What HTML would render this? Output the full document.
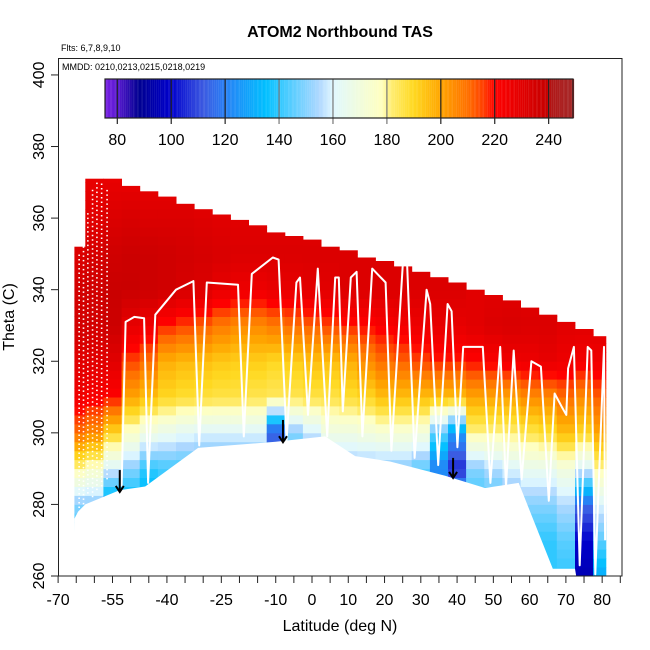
<!DOCTYPE html>
<html><head><meta charset="utf-8">
<style>
html,body{margin:0;padding:0;background:#fff;}
svg{display:block;font-family:"Liberation Sans",Arial,sans-serif;}
</style></head>
<body>
<svg id="chart" width="650" height="650" viewBox="0 0 650 650">
  <rect x="0" y="0" width="650" height="650" fill="#fff"/>
  <text x="340" y="37" text-anchor="middle" font-size="16" font-weight="bold">ATOM2 Northbound TAS</text>
  <text x="61" y="51" font-size="9">Flts: 6,7,8,9,10</text>
  <g id="heat"></g>
  <g id="tracks"></g>
  <g id="arrows"></g>
  <g id="cbar"></g>
  <text x="62" y="70" font-size="9">MMDD: 0210,0213,0215,0218,0219</text>
  <g id="axes"></g>
  <text x="340" y="631" text-anchor="middle" font-size="16">Latitude (deg N)</text>
  <text x="0" y="0" transform="translate(14,317) rotate(-90)" text-anchor="middle" font-size="16">Theta (C)</text>
</svg>
<script>
// ---- data ----
const colLats = [-65,-60,-55,-50,-45,-40,-35,-30,-25,-20,-15,-10,-5,0,5,10,15,20,25,30,35,40,45,50,55,60,65,70,75,80];
const colTops = [352,371,371,369,367.5,366,364,362.5,361,359.5,358,356,355,354,352,351,349,348,346.5,345,343.5,342,340,338.5,337,335,333,331,329,327];
const thetaLevels = [260,270,280,290,300,310,320,330,340,350,360,370];
const tas260 = [140,140,140,140,140,140,140,140,140,140,140,140,140,140,140,140,140,140,140,140,140,140,140,140,140,140,140,140,95,130];
const tas270 = [140,140,140,140,140,140,140,140,140,140,140,140,140,140,140,140,140,140,140,140,140,140,140,140,140,140,140,145,100,145];
const tas280 = [150,150,125,130,130,140,140,140,140,140,140,140,140,140,140,140,140,140,140,140,140,140,140,140,145,150,150,155,115,160];
const tas290 = [180,175,160,150,140,142,142,142,142,142,142,142,142,142,150,150,150,150,150,145,120,105,150,155,160,165,165,170,160,180];
const tas300 = [210,205,190,175,168,165,162,160,160,160,160,110,150,158,168,168,170,172,172,170,145,125,180,180,182,185,188,195,190,200];
const tas310 = [225,222,220,200,195,190,188,187,186,186,185,184,185,186,186,188,190,195,195,195,195,195,200,200,200,205,205,210,205,212];
const tas320 = [230,230,230,215,210,198,196,195,193,192,192,190,192,195,195,198,205,210,212,215,218,218,220,222,225,226,228,226,224,225];
const tas330 = [235,235,237,228,225,218,215,212,208,205,205,208,210,212,215,218,220,222,224,226,228,228,230,232,233,232,232,230,230,230];
const tas340 = [235,236,238,238,237,236,234,232,228,226,226,228,228,230,230,232,232,232,232,232,232,232,230,230,230,230,230,230,230,230];
const tas350 = [232,234,236,237,237,236,235,234,233,232,232,232,232,232,232,232,232,232,232,232,232,232,232,232,232,232,232,232,232,232];
const tas360 = [230,230,232,233,232,232,232,231,230,230,230,230,230,230,230,230,230,230,230,230,230,230,230,230,230,230,230,230,230,230];
const tas370 = [228,228,228,228,228,228,228,228,228,228,228,228,228,228,228,228,228,228,228,228,228,228,228,228,228,228,228,228,228,228];
const floorLat = [-65.5,-64.5,-62.5,-53,-46,-31.4,-10,3.6,11.9,21.5,36.7,47.7,57,66.4,72.5,73];
const floorTheta = [276,278,280,284,285,295.8,297.5,299,293.5,292,288,284.6,286,262,262,259];
const trackLat = [-52.5,-51.4,-49,-46.3,-45.2,-43.2,-37.5,-32.7,-31.1,-29,-20.4,-18.8,-16.6,-10.8,-9.2,-7,-4.3,-3.3,-1.1,1.6,4.2,6.4,7.4,8.5,10.7,12.3,13.9,16.6,20.3,21.9,25.1,26.2,28.3,31.6,32.6,34.8,37.4,38.5,40.1,41.7,47.1,49.2,51.9,53.5,55.6,57.8,60.5,63.1,65.3,66.9,69,70.1,70.6,72.2,73.8,76,77,78.1,80.5,80.8];
const trackTheta = [285,331,332.4,332,286,333,340,342.4,296.5,342,341.4,299,344.4,349,348.4,298,342,343.4,305,345.9,299,343.4,343.4,306,343.4,345,299,345.9,342,295,348,348,293,340,336,291,336,334,296,324,324,286,324,285,323,287,320,318.5,281,311,307,305,318,324,263,324,323,260.5,324,270];
const profLat = [-64.2,-63,-61.8,-60.5,-59.3,-58,-56.5];
const profBottom = [279,280,283,282,284,285,287];
const profTop = [350,358,362,368,370,370,368];
const arrowLat = [-53,-8,38.9];
const arrowTop = [289.6,303.6,293];
const arrowBottom = [283.5,297.4,287.4];
const cbarTicks = [80,100,120,140,160,180,200,220,240];
const xTickLabels = [-70,-55,-40,-25,-10,0,10,20,30,40,50,60,70,80];
const yTickLabels = [260,280,300,320,340,360,380,400];

// ---- scales ----
const NS = "http://www.w3.org/2000/svg";
const X = lat => 312 + lat * 3.627;
const Y = th => 576 - (th - 260) * 3.579;
const CB = v => 117.3 + (v - 80) * 2.696;
const stops = [[75,[123,31,232]],[80,[90,26,208]],[88,[0,0,144]],[100,[0,0,205]],[112,[60,90,225]],[120,[40,128,245]],[135,[0,191,255]],[140,[48,200,255]],[155,[176,216,255]],[160,[224,248,255]],[178,[255,255,192]],[182,[255,236,110]],[190,[255,216,32]],[200,[255,165,0]],[210,[255,112,0]],[216,[255,60,0]],[220,[255,0,0]],[240,[196,0,0]],[241,[176,24,24]],[250,[165,42,42]]];
function col(v){
  if(v<=stops[0][0]) return 'rgb('+stops[0][1]+')';
  for(let i=1;i<stops.length;i++){
    if(v<=stops[i][0]){
      const a=stops[i-1],b=stops[i],t=(v-a[0])/(b[0]-a[0]);
      const c=a[1].map((x,k)=>Math.round(x+(b[1][k]-x)*t));
      return 'rgb('+c+')';
    }
  }
  return 'rgb('+stops[stops.length-1][1]+')';
}
function mk(tag, attrs, parent){
  const e=document.createElementNS(NS,tag);
  for(const k in attrs) e.setAttribute(k,attrs[k]);
  parent.appendChild(e); return e;
}

// ---- heatmap ----
const heat=document.getElementById('heat');
const rows=[tas260,tas270,tas280,tas290,tas300,tas310,tas320,tas330,tas340,tas350,tas360,tas370];
function valAt(c,th){
  let i=Math.floor((th-thetaLevels[0])/10); i=Math.max(0,Math.min(thetaLevels.length-2,i));
  const t=(th-thetaLevels[i])/10;
  return rows[i][c]+(rows[i+1][c]-rows[i][c])*t;
}
colLats.forEach((lat,c)=>{
  const x0=X(Math.max(-65.5,lat-2.5)), x1=X(Math.min(81,lat+2.5));
  for(let th=260; th<colTops[c]; th+=2.5){
    const t1=Math.min(th+2.5,colTops[c]);
    const r=mk('rect',{x:x0.toFixed(1),y:Y(t1).toFixed(1),width:(x1-x0+0.5).toFixed(1),height:(Y(th)-Y(t1)+0.5).toFixed(1),fill:col(valAt(c,th+1.25))},heat);
    
    
  }
});
let pts=floorLat.map((l,i)=>X(l).toFixed(1)+','+Y(floorTheta[i]).toFixed(1));
pts.push(X(-66).toFixed(1)+','+Y(259).toFixed(1));
const mask=mk('polygon',{points:pts.join(' '),fill:'#fff'},heat);



// ---- tracks ----
const tg=document.getElementById('tracks');
profLat.forEach((l,i)=>{
  const p=mk('line',{x1:X(l),x2:X(l),y1:Y(profBottom[i]),y2:Y(profTop[i]),stroke:'#fff','stroke-width':1.6,'stroke-dasharray':'1.5 3'},tg);
  
  
});
const tr=mk('polyline',{points:trackLat.map((l,i)=>X(l).toFixed(1)+','+Y(trackTheta[i]).toFixed(1)).join(' '),fill:'none',stroke:'#fff','stroke-width':2,'stroke-linejoin':'round'},tg);



// ---- arrows ----
const ag=document.getElementById('arrows');
arrowLat.forEach((l,i)=>{
  const x=X(l), y0=Y(arrowTop[i]), y1=Y(arrowBottom[i]);
  const g=mk('g',{},ag);
  
  
  mk('line',{x1:x,x2:x,y1:y0,y2:y1,stroke:'#000','stroke-width':2},g);
  mk('polyline',{points:(x-4)+','+(y1-6)+' '+x+','+y1+' '+(x+4)+','+(y1-6),fill:'none',stroke:'#000','stroke-width':2},g);
});

// ---- colorbar ----
const cb=document.getElementById('cbar');
for(let v=75.4; v<249; v+=0.5){
  const r=mk('rect',{x:CB(v).toFixed(2),y:79,width:1.45,height:39,fill:col(v+0.25)},cb);
  
  
}
cbarTicks.forEach(v=>{
  const gray=(v>=140&&v<=180);
  mk('line',{x1:CB(v),x2:CB(v),y1:79,y2:124,stroke:gray?'#777':'#222','stroke-width':1.2},cb);
  const t=mk('text',{x:CB(v),y:145,'text-anchor':'middle','font-size':16},cb);
  t.textContent=v;
  
  
});
mk('rect',{x:105,y:79,width:468,height:39,fill:'none',stroke:'#222','stroke-width':1.2},cb);

// ---- axes ----
const ax=document.getElementById('axes');
mk('rect',{x:58.5,y:58.5,width:563.5,height:517.5,fill:'none',stroke:'#222','stroke-width':1},ax);
for(let l=-70; l<=85; l+=5){
  mk('line',{x1:X(l),x2:X(l),y1:576,y2:583,stroke:'#222','stroke-width':1},ax);
}
xTickLabels.forEach(l=>{
  const t=mk('text',{x:X(l),y:605,'text-anchor':'middle','font-size':16},ax);
  t.textContent=l;
  
  
});
yTickLabels.forEach(v=>{
  mk('line',{x1:51,x2:58.5,y1:Y(v),y2:Y(v),stroke:'#222','stroke-width':1},ax);
  const t=mk('text',{x:0,y:0,transform:'translate(44,'+Y(v)+') rotate(-90)','text-anchor':'middle','font-size':16},ax);
  t.textContent=v;
  
  
});
</script>
</body></html>
